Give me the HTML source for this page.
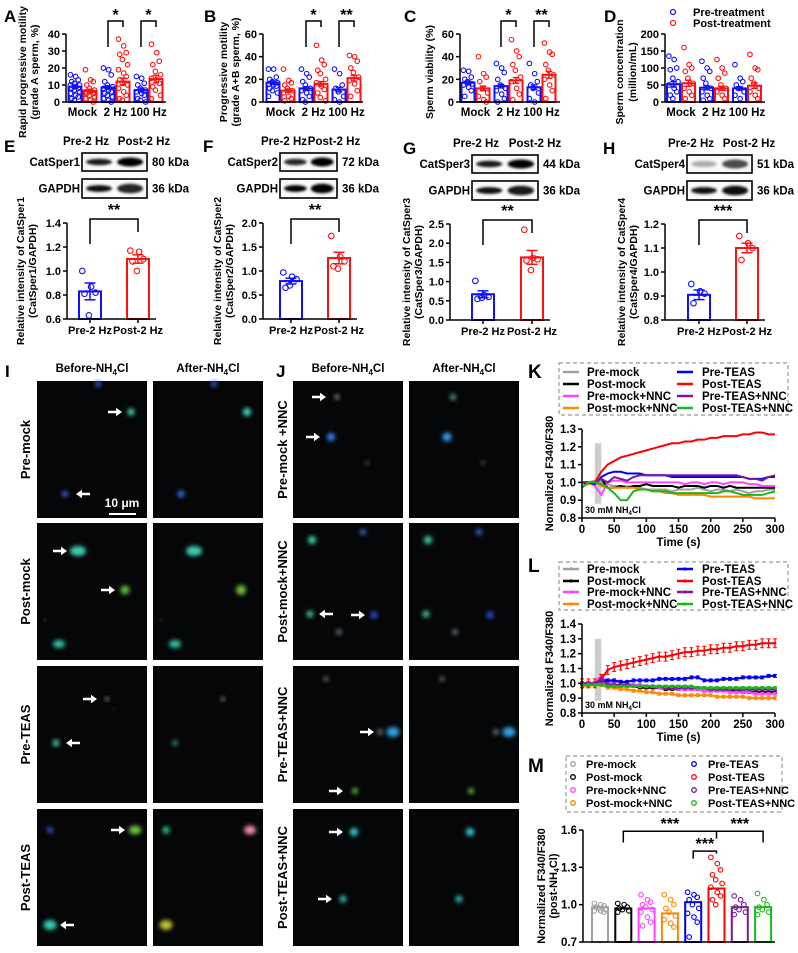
<!DOCTYPE html>
<html><head><meta charset="utf-8">
<style>
html,body{margin:0;padding:0;background:#fff;}
svg{display:block;font-family:"Liberation Sans",Arial,sans-serif;font-weight:bold;}
</style></head>
<body>
<svg id="fig" width="798" height="953" viewBox="0 0 798 953" xmlns="http://www.w3.org/2000/svg">
<defs>
<filter id="blur1" x="-50%" y="-50%" width="200%" height="200%"><feGaussianBlur stdDeviation="1.2"/></filter>
<filter id="blur2" x="-50%" y="-50%" width="200%" height="200%"><feGaussianBlur stdDeviation="2.2"/></filter>
</defs>
</svg>
<script>
// ---------- DATA: panels A-D ----------
const catsAD = ["Mock","2 Hz","100 Hz"];
const meansA = [9,6.5,8.5,12,7,13.5];
const semsA  = [1,1,1,2,1.2,2.2];
const ptsA = [[16,15,13,12,11,10,10,9,8,8,7,6,5,4,3,2,1],[19,13,12,10,8,7,6,6,5,5,4,3,2,1,0],[20,19,16,12,10,9,8,7,6,5,4,3,2,1,0],[37,33,29,28,25,22,19,17,15,13,11,10,8,6,4,2,1],[15,14,11,10,8,7,6,5,4,2,1,0],[34,29,24,22,18,16,14,13,11,9,7,4,2]];
const ticksA = [0,10,20,30,40];
const meansB = [17,10,12,16,11,21];
const semsB  = [1.5,1.5,1.5,2,2,2.5];
const ptsB = [[29,29,22,20,18,17,16,15,14,12,10,8,5],[29,19,17,15,12,10,8,5,3,1],[29,25,22,18,15,12,10,8,5,2,0],[50,37,33,28,25,20,17,14,11,8,4,1],[29,25,15,12,9,5,2,0],[41,40,36,30,26,22,19,16,10,5]];
const ticksB = [0,20,40,60];
const meansC = [17,12,14,19,13,24];
const semsC  = [1.5,2,1.5,2.5,2,3];
const ptsC = [[28,27,22,20,18,16,15,13,10,5],[40,25,22,18,12,8,5,2,0],[34,30,26,20,15,12,10,7,3,0],[55,45,40,33,28,22,18,12,7,2],[34,25,18,15,12,8,3,0],[52,44,42,33,28,24,20,15,10,3]];
const ticksC = [0,20,40,60];
const meansD = [52,55,42,40,40,48];
const semsD  = [8,9,6,6,5,8];
const ptsD = [[135,125,100,95,70,60,50,40,30,20,10],[160,110,100,90,70,55,40,30,20,10],[120,100,90,70,55,40,30,20,10,5],[125,100,85,70,50,40,30,20,10],[110,70,60,50,40,30,20,10],[140,100,95,70,55,40,30,20,10]];
const ticksD = [0,50,100,150,200];
// ---------- DATA: panels E-H ----------
const catsEH = ["Pre-2 Hz","Post-2 Hz"];
const meansE = [0.83,1.10], semsE=[0.07,0.035], ptsE=[[1.0,0.87,0.82,0.81,0.63],[1.17,1.16,1.10,1.08,1.0]], ticksE=[0.6,0.8,1.0,1.2,1.4];
const meansF = [0.79,1.27], semsF=[0.06,0.12], ptsF=[[0.97,0.88,0.83,0.65,0.70],[1.73,1.30,1.20,1.10,1.05]], ticksF=[0,0.5,1.0,1.5,2.0];
const meansG = [0.67,1.63], semsG=[0.09,0.18], ptsG=[[1.02,0.65,0.60,0.55,0.58],[2.35,1.62,1.58,1.55,1.30]], ticksG=[0,0.5,1.0,1.5,2.0,2.5];
const meansH = [0.905,1.10], semsH=[0.02,0.02], ptsH=[[0.95,0.92,0.91,0.87],[1.15,1.12,1.10,1.05]], ticksH=[0.8,0.9,1.0,1.1,1.2];
// ---------- DATA: panel K (time course) ----------
const timeK = [0,10,20,30,40,50,60,70,80,90,100,110,120,130,140,150,160,170,180,190,200,210,220,230,240,250,260,270,280,290,300];
const seriesNames = ["Pre-mock","Post-mock","Pre-mock+NNC","Post-mock+NNC","Pre-TEAS","Post-TEAS","Pre-TEAS+NNC","Post-TEAS+NNC"];
const seriesColors = ["#a0a0a0","#000000","#ff44ff","#ff8800","#0000ee","#ff0000","#7a1a9a","#1ab81a"];
const kPreMock   = [1.0,1.0,1.01,1.0,0.99,0.98,0.98,0.98,0.97,0.97,0.96,0.96,0.96,0.96,0.95,0.96,0.96,0.96,0.97,0.96,0.95,0.96,0.96,0.95,0.96,0.95,0.94,0.95,0.95,0.96,0.96];
const kPostMock  = [1.0,0.99,1.0,1.02,0.97,0.97,0.98,0.97,0.98,0.98,0.99,0.98,0.98,0.98,0.98,0.97,0.98,0.98,0.98,0.97,0.98,0.98,0.97,0.98,0.97,0.97,0.97,0.97,0.97,0.97,0.97];
const kPreMockN  = [1.0,1.0,0.98,0.93,1.0,1.01,1.01,1.0,1.0,1.0,1.0,1.0,1.0,1.0,1.0,1.0,0.99,1.0,1.0,0.99,1.0,1.0,0.99,1.0,1.0,1.0,0.99,0.99,0.98,0.98,0.98];
const kPostMockN = [0.98,0.99,1.0,0.98,0.97,0.97,0.97,0.97,0.97,0.96,0.96,0.95,0.95,0.94,0.94,0.93,0.93,0.93,0.93,0.93,0.92,0.92,0.92,0.92,0.92,0.92,0.92,0.91,0.91,0.91,0.91];
const kPreTEAS   = [1.0,1.0,0.99,1.03,1.05,1.06,1.06,1.05,1.05,1.05,1.04,1.04,1.04,1.04,1.03,1.03,1.03,1.03,1.03,1.03,1.03,1.03,1.03,1.03,1.03,1.03,1.02,1.02,1.02,1.03,1.03];
const kPostTEAS  = [1.0,1.0,1.0,1.06,1.10,1.12,1.14,1.15,1.16,1.17,1.18,1.19,1.20,1.21,1.22,1.22,1.23,1.23,1.24,1.24,1.25,1.25,1.26,1.26,1.26,1.27,1.27,1.28,1.28,1.27,1.27];
const kPreTEASN  = [1.0,1.0,1.0,1.02,1.0,1.03,1.02,1.01,1.03,1.04,1.04,1.04,1.04,1.04,1.04,1.04,1.04,1.04,1.04,1.04,1.04,1.04,1.04,1.04,1.04,1.03,1.02,1.02,1.01,1.03,1.04];
const kPostTEASN = [0.97,1.0,1.0,0.99,0.97,0.94,0.90,0.90,0.95,0.96,0.96,0.95,0.95,0.95,0.94,0.94,0.94,0.94,0.94,0.94,0.94,0.94,0.95,0.95,0.94,0.93,0.93,0.93,0.93,0.94,0.95];
const ticksKy = [0.8,0.9,1.0,1.1,1.2,1.3];
const ticksKx = [0,50,100,150,200,250,300];
// ---------- DATA: panel L (mean ± SEM) ----------
const lPreMock   = [1.0,1.0,1.0,1.01,0.99,0.99,0.99,0.98,0.98,0.98,0.97,0.97,0.97,0.97,0.97,0.96,0.96,0.96,0.96,0.96,0.96,0.96,0.95,0.95,0.95,0.95,0.95,0.95,0.95,0.95,0.95];
const lPostMock  = [0.99,0.99,0.99,0.99,0.98,0.98,0.98,0.98,0.98,0.97,0.97,0.97,0.97,0.96,0.96,0.96,0.96,0.96,0.96,0.95,0.95,0.95,0.95,0.95,0.95,0.94,0.94,0.94,0.94,0.94,0.94];
const lPreMockN  = [1.0,1.0,1.0,1.05,1.0,1.01,1.01,1.0,0.99,0.99,0.98,0.98,0.97,0.97,0.97,0.96,0.96,0.96,0.96,0.95,0.95,0.95,0.95,0.94,0.94,0.94,0.94,0.93,0.93,0.93,0.93];
const lPostMockN = [0.98,0.98,0.99,0.99,0.97,0.97,0.96,0.96,0.95,0.95,0.94,0.94,0.93,0.93,0.93,0.92,0.92,0.92,0.92,0.92,0.92,0.91,0.91,0.91,0.91,0.91,0.90,0.90,0.90,0.90,0.90];
const lPreTEAS   = [1.0,1.0,1.0,1.02,1.02,1.02,1.01,1.01,1.02,1.02,1.02,1.02,1.03,1.03,1.03,1.03,1.03,1.04,1.04,1.02,1.02,1.02,1.03,1.03,1.03,1.04,1.04,1.04,1.04,1.05,1.05];
const lPostTEAS  = [1.0,1.0,1.0,1.03,1.09,1.11,1.12,1.13,1.14,1.15,1.16,1.17,1.18,1.18,1.19,1.20,1.21,1.21,1.22,1.22,1.23,1.23,1.24,1.24,1.25,1.25,1.26,1.26,1.27,1.27,1.27];
const lPreTEASN  = [1.0,1.0,1.0,1.03,0.99,0.99,0.99,0.99,0.98,0.98,0.98,0.98,0.98,0.97,0.97,0.97,0.97,0.97,0.97,0.97,0.96,0.96,0.96,0.96,0.96,0.96,0.96,0.96,0.96,0.96,0.96];
const lPostTEASN = [0.99,0.99,0.99,0.99,0.98,0.98,0.98,0.98,0.98,0.98,0.98,0.98,0.98,0.98,0.98,0.98,0.98,0.98,0.97,0.97,0.97,0.97,0.97,0.97,0.97,0.97,0.97,0.97,0.97,0.97,0.97];
const lErr = [0.008,0.008,0.01,0.01,0.01,0.03,0.008,0.008];
const ticksLy = [0.8,0.9,1.0,1.1,1.2,1.3,1.4];
// ---------- DATA: panel M ----------
const meansM = [0.98,0.97,0.97,0.93,1.02,1.13,0.98,0.98];
const ptsM = [[1.01,1.0,0.99,0.98,0.97,0.96,0.95,0.95,0.94],[1.01,1.0,0.98,0.97,0.96,0.95,0.94],[1.08,1.04,1.02,1.0,0.98,0.96,0.94,0.9,0.86,0.83],[1.08,1.04,1.0,0.97,0.94,0.91,0.88,0.85,0.82],[1.1,1.08,1.06,1.04,1.0,0.97,0.93,0.9,0.86,0.74],[1.38,1.33,1.28,1.24,1.2,1.17,1.14,1.1,1.07,1.04,1.0],[1.07,1.04,1.0,0.98,0.96,0.94,0.92],[1.09,1.04,1.0,0.98,0.96,0.94,0.92]];
const ticksM = [0.7,1.0,1.3,1.6];

// ---------- helpers ----------
const NS="http://www.w3.org/2000/svg";
const svg=document.getElementById('fig');
function mk(tag,parent){const e=document.createElementNS(NS,tag);(parent||svg).appendChild(e);return e;}
function sa(e,o){for(const k in o)e.setAttribute(k,o[k]);return e;}
function line(p,x1,y1,x2,y2,c,w){const l=mk('line',p);sa(l,{x1,y1,x2,y2,stroke:c||'#000','stroke-width':w||1.5});return l;}
function text(p,x,y,s,size,anchor,rot){const t=mk('text',p);sa(t,{x,y,'font-size':size||11,'text-anchor':anchor||'middle'});if(rot)t.setAttribute('transform',`rotate(${rot} ${x} ${y})`);t.textContent=s;return t;}
function lin(v,d0,d1,r0,r1){return r0+(v-d0)/(d1-d0)*(r1-r0);}

function yAxis(g,x,yb,yt,ticks,vmin,vmax,size,dec){
  const a=line(g,x,yb,x,yt,'#000',1.5);
  
  
  ticks.forEach(v=>{const y=lin(v,vmin,vmax,yb,yt);line(g,x-4,y,x,y);
    const t=text(g,x-6,y+4,v.toFixed(dec||0),size||11,'end');
    
    });
}
function panelLetter(x,y,s,size){const t=text(svg,x,y,s,size||17,'start');
  
  }

function drawBarsPoints(g,centers,means,sems,pts,colors,vmin,vmax,yb,yt,bw,r){
  means.forEach((m,i)=>{
    const cx=centers[i], c=colors[i];
    const yTop=lin(m,vmin,vmax,yb,yt);
    const b=mk('rect',g);sa(b,{x:cx-bw/2,y:yTop,width:bw,height:yb-yTop,fill:'#fff',stroke:c,'stroke-width':2});
    
    
    pts[i].forEach((v,j)=>{
      const off=((j%3)-1)*bw*0.3+((j%2)?1:-1)*bw*0.05;
      const p=mk('circle',g);sa(p,{cx:cx+off,cy:lin(v,vmin,vmax,yb,yt),r:r||2.3,fill:'none',stroke:c,'stroke-width':1.1});
      
      
    });
    if(sems){const y1=lin(m+sems[i],vmin,vmax,yb,yt),y2=lin(m-sems[i],vmin,vmax,yb,yt);
      line(g,cx,y1,cx,y2,c,1.5);line(g,cx-bw*0.25,y1,cx+bw*0.25,y1,c,1.5);line(g,cx-bw*0.25,y2,cx+bw*0.25,y2,c,1.5);
      line(g,cx-bw*0.3,yTop,cx+bw*0.3,yTop,c,2);}
  });
}
function bracket(g,x1,x2,yTop,y1,y2,stars,sy){
  const p=mk('path',g);sa(p,{d:`M${x1},${y1}V${yTop}H${x2}V${y2}`,fill:'none',stroke:'#000','stroke-width':1.5});
  
  
  const t=text(g,(x1+x2)/2,sy,stars,16,'middle');
  
  
}

// ---------- Panels A-D ----------
function panelAD(letter,lx,axisX,firstC,means,sems,pts,ticks,vmax,titles,titleXs,sig){
  const g=mk('g');
  
  
  panelLetter(lx,22,letter);
  const yb=102,yt=34;
  const centers=[],colors=[];
  for(let k=0;k<catsAD.length;k++){centers.push(firstC+k*33-7.5,firstC+k*33+7.5);colors.push('#1010ff','#ff1010');}
  drawBarsPoints(g,centers,means,sems,pts,colors,0,vmax,yb,yt,13,2.3);
  yAxis(g,axisX,yb,yt,ticks,0,vmax,11,0);
  line(g,axisX,yb,axisX+100,yb,'#000',1.5);
  catsAD.forEach((c,k)=>{const t=text(g,firstC+k*33,116,c,11.5);
    
    });
  titles.forEach((s,k)=>{const t=text(g,titleXs[k],(yb+yt)/2+4,s,10.5,'middle',-90);
    
    });
  sig.forEach(s=>{const k=s[0];const xa=centers[2*k],xb=centers[2*k+1];
    bracket(g,xa,xb,21,47,27,s[1],20);});
}
panelAD('A',4,66,82.5,meansA,semsA,ptsA,ticksA,40,['Rapid progressive motility','(grade A sperm, %)'],[26,38],[[1,'*'],[2,'*']]);
panelAD('B',204,263,280.5,meansB,semsB,ptsB,ticksB,60,['Progressive motility','(grade A+B sperm, %)'],[227,239],[[1,'*'],[2,'**']]);
panelAD('C',404,460,475.5,meansC,semsC,ptsC,ticksC,60,['Sperm viability (%)'],[433],[[1,'*'],[2,'**']]);
panelAD('D',604,665,681,meansD,semsD,ptsD,ticksD,200,['Sperm concentration','(million/mL)'],[623,636],[]);
// D legend
[['Pre-treatment','#1010ff',15],['Post-treatment','#ff1010',26]].forEach(l=>{
  const c=mk('circle');sa(c,{cx:673,cy:l[2]-3,r:2.5,fill:'none',stroke:l[1],'stroke-width':1.2});
  
  
  const t=text(svg,693,l[2]+1,l[0],11,'start');
  
  
});

// ---------- Panels E-H ----------
function blotBand(g,x,y,w,h,intensity){
  const e=mk('ellipse',g);sa(e,{cx:x+w/2,cy:y+h/2,rx:w/2,ry:h/2,fill:'#000','fill-opacity':intensity,filter:'url(#blur1)'});
  
  
}
function panelEH(letter,lx,ly,bx,bw,by,protein,kda,bandsP,bandsG,axisX,centers,means,sems,pts,ticks,vmin,vmax,yt,yb,stars,titleProt,tx){
  const g=mk('g');
  
  
  panelLetter(lx,ly,letter);
  const h1=18,h2=19,gap=8;
  const t1=text(g,bx+4,by-8,'Pre-2 Hz',11.5);
  const t2=text(g,bx+bw-3,by-8,'Post-2 Hz',11.5);
  [[by,h1,protein,kda,bandsP],[by+h1+gap,h2,'GAPDH','36 kDa',bandsG]].forEach(r=>{
    const box=mk('rect',g);sa(box,{x:bx,y:r[0],width:bw,height:r[1],fill:'#fafafa',stroke:'#000','stroke-width':1.6});
    
    
    blotBand(g,bx+4,r[0]+r[1]*0.32,bw*0.4,r[1]*0.36,r[4][0]);
    blotBand(g,bx+bw*0.54,r[0]+r[1]*0.25,bw*0.4,r[1]*0.5,r[4][1]);
    const pl=text(g,bx-2,r[0]+r[1]/2+4,r[2],11.5,'end');
    const kl=text(g,bx+bw+5,r[0]+r[1]/2+4,r[3],11.5,'start');
  });
  drawBarsPoints(g,centers,means,sems,pts,['#1010ff','#ff1010'],vmin,vmax,yb,yt,22,2.8);
  yAxis(g,axisX,yb,yt,ticks,vmin,vmax,11,1);
  line(g,axisX,yb,centers[1]+18,yb);
  centers.forEach((c,k)=>{line(g,c,yb,c,yb+4);const t=text(g,c,yb+15,catsEH[k],11);
    });
  bracket(g,centers[0],centers[1],yt-4,yt+21,yt+9,stars,yt-8);
  const ymid=(yt+yb)/2;
  const a=text(g,tx,ymid,'Relative intensity of '+titleProt,10.5,'middle',-90);
  const b=text(g,tx+12,ymid,'('+titleProt+'/GAPDH)',10.5,'middle',-90);
}
panelEH('E',4,152,82,65,153,'CatSper1','80 kDa',[0.9,1],[0.95,0.85],67,[90,138],meansE,semsE,ptsE,ticksE,0.6,1.4,223,319,'**','CatSper1',24);
panelEH('F',203,152,280,57,153,'CatSper2','72 kDa',[0.85,1],[1,1],263,[291,339],meansF,semsF,ptsF,ticksF,0,2.0,223,319,'**','CatSper2',221);
panelEH('G',403,154,472,66,155,'CatSper3','44 kDa',[0.9,1],[0.95,0.9],450,[483,532],meansG,semsG,ptsG,ticksG,0,2.5,224,320,'**','CatSper3',410);
panelEH('H',603,154,687,65,155,'CatSper4','51 kDa',[0.3,0.7],[0.95,0.95],665,[699,747],meansH,semsH,ptsH,ticksH,0.8,1.2,224,320,'***','CatSper4',625);

// ---------- Panels I, J (microscopy) ----------
const rowsY=[381,523,666,809], rowH=137;
function colHeader(cx,label){const t=mk('text');sa(t,{x:cx,y:372,'font-size':11.5,'text-anchor':'middle'});
  
  
  t.innerHTML=label+'-NH<tspan font-size="8" dy="3">4</tspan><tspan dy="-3">Cl</tspan>';}
function spot(g,x,y,color,r,el){const e=mk('ellipse',g);sa(e,{cx:x,cy:y,rx:(r||3.5)*(el||1),ry:r||3.5,fill:color,filter:'url(#blur2)'});
  }
function arrow(g,x,y,dir){const d=dir>0?`M${x-9},${y-1.2}h8v-3l6,4.2l-6,4.2v-3h-8z`:`M${x+9},${y-1.2}h-8v-3l-6,4.2l6,4.2v-3h8z`;
  const p=mk('path',g);sa(p,{d,fill:'#fff'});}
const cellsI=[
 {b:[[61,3,'#3060e0',3],[94,31,'#40e0c0',3.5],[28,113,'#3070e0',3]],a:[[61,3,'#3060e0',3],[94,31,'#40e0c0',4],[28,113,'#3070e0',3.5]],arr:[[80,31,1],[44,113,-1]]},
 {b:[[41,28,'#40d0b0',5,1.6],[88,67,'#60c040',4.5],[22,121,'#30c0a0',4,1.5],[8,97,'#aaa',1]],a:[[41,28,'#40d0b0',5,1.6],[88,67,'#70c040',5],[22,121,'#30c0a0',4,1.5],[8,97,'#aaa',1]],arr:[[25,28,1],[73,67,1]]},
 {b:[[70,33,'#909090',2],[19,77,'#40c0a0',3.5],[77,43,'#666',1]],a:[[70,33,'#909090',2],[22,77,'#308080',3]],arr:[[55,33,1],[34,77,-1]]},
 {b:[[13,21,'#3060e0',3],[98,21,'#70c040',4.5,1.4],[13,116,'#30d0b0',5,1.3]],a:[[13,21,'#30d080',3.5],[97,21,'#f090b0',4.5,1.3],[13,116,'#c0c030',5,1.3]],arr:[[83,21,1],[28,116,-1]]}
];
const cellsJ=[
 {b:[[44,16,'#909090',2.5],[38,56,'#3080f0',4],[74,82,'#555',2]],a:[[44,16,'#60a090',3],[38,56,'#30a0f0',4.5],[74,82,'#555',2]],arr:[[28,16,1],[22,56,1]]},
 {b:[[19,17,'#40d0b0',4],[70,9,'#3070e0',3],[17,91,'#50c090',3.5],[81,92,'#3050e0',3.5],[46,109,'#607080',3]],a:[[19,17,'#40d0b0',4],[70,9,'#3070e0',3],[17,91,'#50c090',3.5],[81,92,'#3050e0',3.5],[46,109,'#607080',3]],arr:[[31,91,-1],[67,92,1]]},
 {b:[[33,13,'#707070',2.5],[100,66,'#30a0e0',5,1.3],[87,66,'#607080',3],[62,125,'#60c040',3]],a:[[33,13,'#707070',2.5],[100,66,'#30a0e0',5,1.3],[87,66,'#607080',3],[62,125,'#60c040',3]],arr:[[76,66,1],[45,125,1]]},
 {b:[[61,23,'#30d0e0',4],[50,90,'#30c0b0',3.5]],a:[[61,23,'#30d0e0',4],[50,90,'#30c0b0',3.5]],arr:[[45,23,1],[34,90,1]]}
];
function imagePanel(letter,lx,cols,rowLabels,rowLabelX,cells){
  const g=mk('g');
  
  
  panelLetter(lx,377,letter);
  colHeader(cols[0]+55,'Before');colHeader(cols[1]+55,'After');
  rowsY.forEach((ry,r)=>{
    const t=text(g,rowLabelX,ry+rowH/2,rowLabels[r],13,'middle',-90);
    
    cols.forEach((cx,c)=>{
      const rc=mk('rect',g);sa(rc,{x:cx,y:ry,width:110,height:rowH,fill:'#050608'});
      
      
      const list=c===0?cells[r].b:cells[r].a;
      list.forEach(s=>spot(g,cx+s[0],ry+s[1],s[2],s[3],s[4]));
      if(c===0)cells[r].arr.forEach(a=>arrow(g,cx+a[0],ry+a[1],a[2]));
    });
  });
}
imagePanel('I',5,[37,153],['Pre-mock','Post-mock','Pre-TEAS','Post-TEAS'],30,cellsI);
imagePanel('J',276,[293,409],['Pre-mock +NNC','Post-mock+NNC','Pre-TEAS+NNC','Post-TEAS+NNC'],287,cellsJ);
// scale bar
const sb=line(svg,109,514,136,514,'#fff',2);

const sbt=text(svg,122,507,'10 μm',12,'middle');sbt.setAttribute('fill','#fff');


// ---------- legend (K, L, M) ----------
function legend(g,x0,y0,w,h,rows,kind){
  const b=mk('rect',g);sa(b,{x:x0,y:y0,width:w,height:h,fill:'none',stroke:'#999','stroke-width':1.2,'stroke-dasharray':'4,3'});
  
  seriesNames.forEach((n,i)=>{
    const col=i<4?0:1,row=i%4;const y=rows[row];
    let sx,tx;
    if(kind==='m'){sx=col?x0+124:x0+3; tx=col?x0+142:x0+20;}
    else{sx=col?x0+118:x0+4; tx=col?x0+143:x0+28;}
    if(kind==='m'){const c=mk('circle',g);sa(c,{cx:sx+4,cy:y-4,r:2.3,fill:'none',stroke:seriesColors[i],'stroke-width':1.3});}
    else{line(g,sx,y-4,sx+16,y-4,seriesColors[i],2.5);if(kind==='l'){const c=mk('circle',g);sa(c,{cx:sx+8,cy:y-4,r:1.6,fill:seriesColors[i]});}}
    const t=text(g,tx,y,n,kind==='m'?11:11.5,'start');
    
    
  });
}
function nh4(g,x,y){const t=mk('text',g);sa(t,{x,y,'font-size':9,'text-anchor':'start'});
  t.innerHTML='30 mM NH<tspan font-size="6" dy="2">4</tspan><tspan dy="-2">Cl</tspan>';
  }
function timeChart(letter,ly,legY,legH,legRows,yt,yb,ticksY,vmax,series,errs,kind){
  const g=mk('g');
  
  
  panelLetter(528,ly,letter,19);
  legend(g,559,legY,229,legH,legRows,kind);
  const x0=582,x1=775,vmin=0.8;
  const X=t=>lin(t,0,300,x0,x1),Y=v=>lin(v,vmin,vmax,yb,yt);
  const sh=mk('rect',g);sa(sh,{x:X(20),y:Y(kind==='l'?1.3:1.22),width:X(30)-X(20),height:Y(0.88)-Y(kind==='l'?1.3:1.22),fill:'#cccccc'});
  
  series.forEach((s,i)=>{
    if(errs){s.forEach((v,j)=>{const tx=X(timeK[j]);line(g,tx,Y(v+errs[i]),tx,Y(v-errs[i]),seriesColors[i],1.2);
      line(g,tx-2,Y(v+errs[i]),tx+2,Y(v+errs[i]),seriesColors[i],1);line(g,tx-2,Y(v-errs[i]),tx+2,Y(v-errs[i]),seriesColors[i],1);});}
    const p=mk('polyline',g);sa(p,{points:s.map((v,j)=>X(timeK[j])+','+Y(v)).join(' '),fill:'none',stroke:seriesColors[i],'stroke-width':2});
    
    
    if(errs){s.forEach((v,j)=>{const c=mk('circle',g);sa(c,{cx:X(timeK[j]),cy:Y(v),r:1.4,fill:seriesColors[i]});});}
  });
  yAxis(g,x0,yb,yt,ticksY,vmin,vmax,11.5,1);
  line(g,x0,yb,x1,yb);
  ticksKx.forEach(t=>{line(g,X(t),yb,X(t),yb+4);const l=text(g,X(t),yb+15,String(t),11.5);
    });
  const xt=text(g,(x0+x1)/2,yb+28,'Time (s)',11.5);
  const yl=text(g,553,(yt+yb)/2,'Normalized F340/F380',11,'middle',-90);
  nh4(g,585,yb-5);
}
timeChart('K',378,363,52,[376,388,400,412],429,518,ticksKy,1.3,[kPreMock,kPostMock,kPreMockN,kPostMockN,kPreTEAS,kPostTEAS,kPreTEASN,kPostTEASN],null,'k');
timeChart('L',572,562,48,[573,585,596,608],624,713,ticksLy,1.4,[lPreMock,lPostMock,lPreMockN,lPostMockN,lPreTEAS,lPostTEAS,lPreTEASN,lPostTEASN],lErr,'l');

// ---------- Panel M ----------
(function(){
  const g=mk('g');
  
  
  panelLetter(528,772,'M',19);
  legend(g,566,756,216,56,[768,781,794,807],'m');
  const yb=942,yt=830,x0=583,x1=775,vmin=0.7,vmax=1.6;
  const centers=meansM.map((m,i)=>x0+17+i*23.3);
  drawBarsPoints(g,centers,meansM,null,ptsM,seriesColors,vmin,vmax,yb,yt,16,2.3);
  yAxis(g,x0,yb,yt,ticksM,vmin,vmax,11.5,1);
  line(g,x0,yb,x1,yb);
  const Y=v=>lin(v,vmin,vmax,yb,yt);
  const p=mk('path',g);sa(p,{d:`M${centers[1]},${Y(1.5)}V${Y(1.59)}H${centers[7]}V${Y(1.5)}M${centers[5]},${Y(1.59)}V${Y(1.53)}`,fill:'none',stroke:'#000','stroke-width':1.5});
  
  const s1=text(g,(centers[1]+centers[5])/2,Y(1.59)-2,'***',16);
  const s2=text(g,(centers[5]+centers[7])/2,Y(1.59)-2,'***',16);
  bracket(g,centers[4],centers[5],Y(1.43),Y(1.37),Y(1.41),'***',Y(1.43)-2);
  const a=text(g,545,886,'Normalized F340/F380',11,'middle',-90);
  const b=mk('text',g);sa(b,{x:557,y:886,'font-size':11,'text-anchor':'middle',transform:'rotate(-90 557 886)'});
  b.innerHTML='(post-NH<tspan font-size="7" dy="2">4</tspan><tspan dy="-2">Cl)</tspan>';
  
})();
</script>
</body></html>
